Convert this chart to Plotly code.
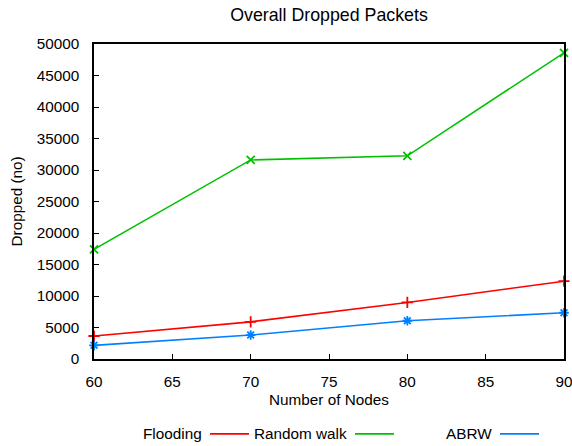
import plotly.graph_objects as go

nodes = [60, 70, 80, 90]
flooding = [3650, 5900, 8980, 12350]
random_walk = [17400, 31600, 32250, 48600]
abrw = [2170, 3800, 6070, 7340]

series_names = ["Flooding", "Random walk", "ABRW"]
colors = ["#ff0000", "#00c000", "#0080ff"]
symbols = ["cross-thin-open", "x-thin-open", "asterisk-open"]

W, H = 572, 446
L, R, T, B = 94, 564, 43.5, 359
FONT = "Liberation Sans, Arial, sans-serif"

def px(x):
    return (x - L) / (R - L)

def py(y):
    return (B - y) / (B - T)

fig = go.Figure()
for name, vals, c, s in zip(series_names, [flooding, random_walk, abrw], colors, symbols):
    fig.add_trace(go.Scatter(
        x=nodes, y=vals, name=name, mode="lines+markers",
        line=dict(color=c, width=1.6),
        marker=dict(symbol=s, size=8, color=c, line=dict(color=c, width=1.8)),
        cliponaxis=False, showlegend=False))

# custom gnuplot-style key: text right-aligned, then sample
key_text_right = [201, 346, 491]
key_y = 434
shapes = []
annotations = []
for i, (name, c, s) in enumerate(zip(series_names, colors, symbols)):
    xr = key_text_right[i]
    annotations.append(dict(text=name, x=px(xr + 2.5), y=py(key_y), xref="paper", yref="paper",
                            xanchor="right", yanchor="middle", showarrow=False,
                            font=dict(size=15.3, color="#000", family=FONT)))
    x0, x1 = xr + 9, xr + 48
    shapes.append(dict(type="line", xref="paper", yref="paper", x0=px(x0), x1=px(x1),
                       y0=py(key_y), y1=py(key_y), line=dict(color=c, width=1.6)))
    fig.add_trace(go.Scatter(x=[(x0 + x1) / 2], y=[key_y], xaxis="x2", yaxis="y2",
                             mode="markers", cliponaxis=False, showlegend=False, hoverinfo="skip",
                             marker=dict(symbol=s, size=8, color=c, line=dict(color=c, width=1.8))))

annotations.append(dict(text="Number of Nodes", x=0.5, y=py(400), xref="paper", yref="paper",
                        xanchor="center", yanchor="middle", showarrow=False,
                        font=dict(size=15.3, color="#000", family=FONT)))
annotations.append(dict(text="Dropped (no)", x=px(16), y=0.5, xref="paper", yref="paper",
                        xanchor="center", yanchor="middle", showarrow=False, textangle=-90,
                        font=dict(size=15.3, color="#000", family=FONT)))

fig.update_layout(
    width=W, height=H, autosize=False,
    margin=dict(l=L, r=W - R, t=T, b=H - B, pad=0, autoexpand=False),
    paper_bgcolor="white", plot_bgcolor="white",
    font=dict(family=FONT, size=15, color="#000"),
    title=dict(text="Overall Dropped Packets", x=329 / W, xanchor="center",
               y=1 - 15 / H, yanchor="middle", yref="container",
               font=dict(size=17.8, color="#000", family=FONT)),
    xaxis=dict(range=[60, 90], tickvals=[60, 65, 70, 75, 80, 85, 90], automargin=False,
               ticklabeloverflow="allow",
               showgrid=False, zeroline=False, showline=True, linecolor="#000", linewidth=1.5,
               mirror=True, ticks="inside", ticklen=5, tickwidth=1.2, tickcolor="#000",
               ticklabelstandoff=8, tickfont=dict(size=15.3)),
    yaxis=dict(range=[0, 50000], tickvals=list(range(0, 50001, 5000)), tickformat="d",
               automargin=False, ticklabeloverflow="allow",
               showgrid=False, zeroline=False, showline=True, linecolor="#000", linewidth=1.5,
               mirror=True, ticks="inside", ticklen=5, tickwidth=1.2, tickcolor="#000",
               ticklabelstandoff=10, tickfont=dict(size=15.3)),
    xaxis2=dict(domain=[0, 1], range=[L, R], visible=False, overlaying="x", anchor="y2",
                automargin=False),
    yaxis2=dict(domain=[0, 1], range=[B, T], visible=False, overlaying="y", anchor="x2",
                automargin=False),
    shapes=shapes, annotations=annotations,
)

fig.write_html("out.html", config={"displayModeBar": False},
               post_script="document.body.style.margin='0';document.body.style.padding='0';")
